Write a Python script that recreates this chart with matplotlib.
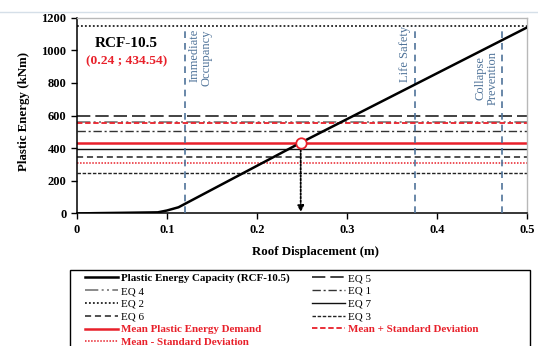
import matplotlib
matplotlib.use("Agg")
import matplotlib.pyplot as plt
from matplotlib.lines import Line2D
from matplotlib.patches import Rectangle

plt.rcParams['font.family'] = ['Liberation Serif', 'DejaVu Serif']

# capacity curve (RCF-10.5)
disp = [0.0, 0.02, 0.05, 0.09, 0.10, 0.113, 0.249, 0.5]
energy = [0.0, 2.0, 4.0, 7.0, 18.0, 38.0, 434.54, 1140.0]

# earthquake plastic energy demands (kNm)
eq_names = ['EQ 1', 'EQ 2', 'EQ 3', 'EQ 4', 'EQ 5', 'EQ 6', 'EQ 7']
eq_values = [507, 1150, 250, 558, 600, 344, 395]

mean_demand = 434.54
mean_plus_sd = 552
mean_minus_sd = 307

perf_levels = ['Immediate\nOccupancy', 'Life Safety', 'Collapse\nPrevention']
perf_disp = [0.12, 0.3757, 0.4726]

point_x = 0.2487
point_label = '(0.24 ; 434.54)'

eq_styles = {
    'EQ 1': dict(color='#333333', ls=(0, (6, 2, 1.5, 2)), lw=1.0),
    'EQ 2': dict(color='#222222', ls=(0, (1, 1.2)), lw=1.3),
    'EQ 3': dict(color='#222222', ls=(0, (2.5, 1.2)), lw=1.0),
    'EQ 4': dict(color='#777777', ls=(0, (8, 2, 1.2, 2, 1.2, 2)), lw=1.2),
    'EQ 5': dict(color='#222222', ls=(0, (8, 3)), lw=1.2),
    'EQ 6': dict(color='#222222', ls=(0, (4, 2.5)), lw=1.1),
    'EQ 7': dict(color='#111111', ls='-', lw=1.0),
}
red = '#e8202a'
blue = '#4f7399'

fig = plt.figure(figsize=(5.38, 3.46), dpi=100)
ax = fig.add_axes([0.1426, 0.383, 0.8370, 0.566])

eq_lines = {}
for name, val in zip(eq_names, eq_values):
    eq_lines[name], = ax.plot([0, 0.5], [val, val], label=name, **eq_styles[name])

mean_l, = ax.plot([0, 0.5], [mean_demand] * 2, color=red, lw=1.8)
plus_l, = ax.plot([0, 0.5], [mean_plus_sd] * 2, color=red, lw=1.3, ls=(0, (3, 1.5)))
minus_l, = ax.plot([0, 0.5], [mean_minus_sd] * 2, color=red, lw=1.1, ls=(0, (1, 1)))

cap_l, = ax.plot(disp, energy, color='black', lw=1.8, zorder=5)

for x in perf_disp:
    ax.plot([x, x], [0, 1150], color=blue, lw=1.2, ls=(0, (4, 3)), zorder=4)

ax.text(perf_disp[0] + 0.004, 1130, perf_levels[0], rotation=90, ha='left', va='top',
        color=blue, fontsize=9, multialignment='right', linespacing=1.0)
ax.text(perf_disp[1] - 0.004, 1150, perf_levels[1], rotation=90, ha='right', va='top',
        color=blue, fontsize=9)
ax.text(perf_disp[2] - 0.004, 830, perf_levels[2], rotation=90, ha='right', va='center',
        color=blue, fontsize=9, multialignment='center', linespacing=1.0)

# demand / capacity intersection
ax.annotate('', xy=(point_x, 8), xytext=(point_x, mean_demand),
            arrowprops=dict(arrowstyle='-|>', ls=(0, (1, 1)), lw=1.3, color='black',
                            mutation_scale=9, shrinkA=0, shrinkB=0), zorder=6)
ax.plot([point_x], [mean_demand], 'o', ms=7.5, mfc='white', mec=red, mew=1.3, zorder=7)

ax.text(0.055, 1040, 'RCF-10.5', ha='center', va='center', fontsize=11, fontweight='bold')
ax.text(0.055, 935, point_label, ha='center', va='center', fontsize=9.7,
        fontweight='bold', color=red)

ax.set_xlim(0, 0.5)
ax.set_ylim(0, 1200)
ax.set_xticks([0, 0.1, 0.2, 0.3, 0.4, 0.5])
ax.set_xticklabels(['0', '0.1', '0.2', '0.3', '0.4', '0.5'])
ax.set_yticks(range(0, 1201, 200))
ax.tick_params(direction='out', length=4, width=1, labelsize=9)
for lab in ax.get_xticklabels() + ax.get_yticklabels():
    lab.set_fontweight('bold')
ax.spines['left'].set_linewidth(1.1)
ax.spines['bottom'].set_linewidth(1.1)
for s in ['top', 'right']:
    ax.spines[s].set_color('#b8b8b8')
    ax.spines[s].set_linewidth(1.0)

ax.set_xlabel('Roof Displacement (m)', fontsize=9.3, fontweight='bold')
ax.xaxis.set_label_coords(0.531, -0.165)
ax.set_ylabel('Plastic Energy (kNm)', fontsize=9.3, fontweight='bold')
ax.yaxis.set_label_coords(-0.104, 0.52)

# faint page rule at the top
fig.add_artist(Line2D([0, 1], [1 - 11.7 / 346] * 2, transform=fig.transFigure,
                      color='#d5dfe8', lw=1.0))

# legend frame runs past the bottom edge, as in the source
fig.add_artist(Rectangle((70 / 538, -0.2), (530 - 70) / 538, 1 - 270 / 346 + 0.2,
                         transform=fig.transFigure, fill=False, ec='black', lw=1.0))

handles = [cap_l, eq_lines['EQ 4'], eq_lines['EQ 2'], eq_lines['EQ 6'], mean_l, minus_l,
           eq_lines['EQ 5'], eq_lines['EQ 1'], eq_lines['EQ 7'], eq_lines['EQ 3'], plus_l]
labels = ['Plastic Energy Capacity (RCF-10.5)', 'EQ 4', 'EQ 2', 'EQ 6',
          'Mean Plastic Energy Demand', 'Mean - Standard Deviation',
          'EQ 5', 'EQ 1', 'EQ 7', 'EQ 3', 'Mean + Standard Deviation']
leg = fig.legend(handles, labels, ncol=2, loc='upper left',
                 bbox_to_anchor=(85 / 538, 1 - 273.5 / 346),
                 fontsize=7.9, frameon=False, handlelength=3.0, handletextpad=0.25,
                 labelspacing=0.28, borderpad=0, borderaxespad=0, columnspacing=2.1)
for i, t in enumerate(leg.get_texts()):
    if i == 0:
        t.set_fontweight('bold')
    if labels[i].startswith('Mean'):
        t.set_fontweight('bold')
        t.set_color(red)

fig.savefig('out.png', dpi=100)
